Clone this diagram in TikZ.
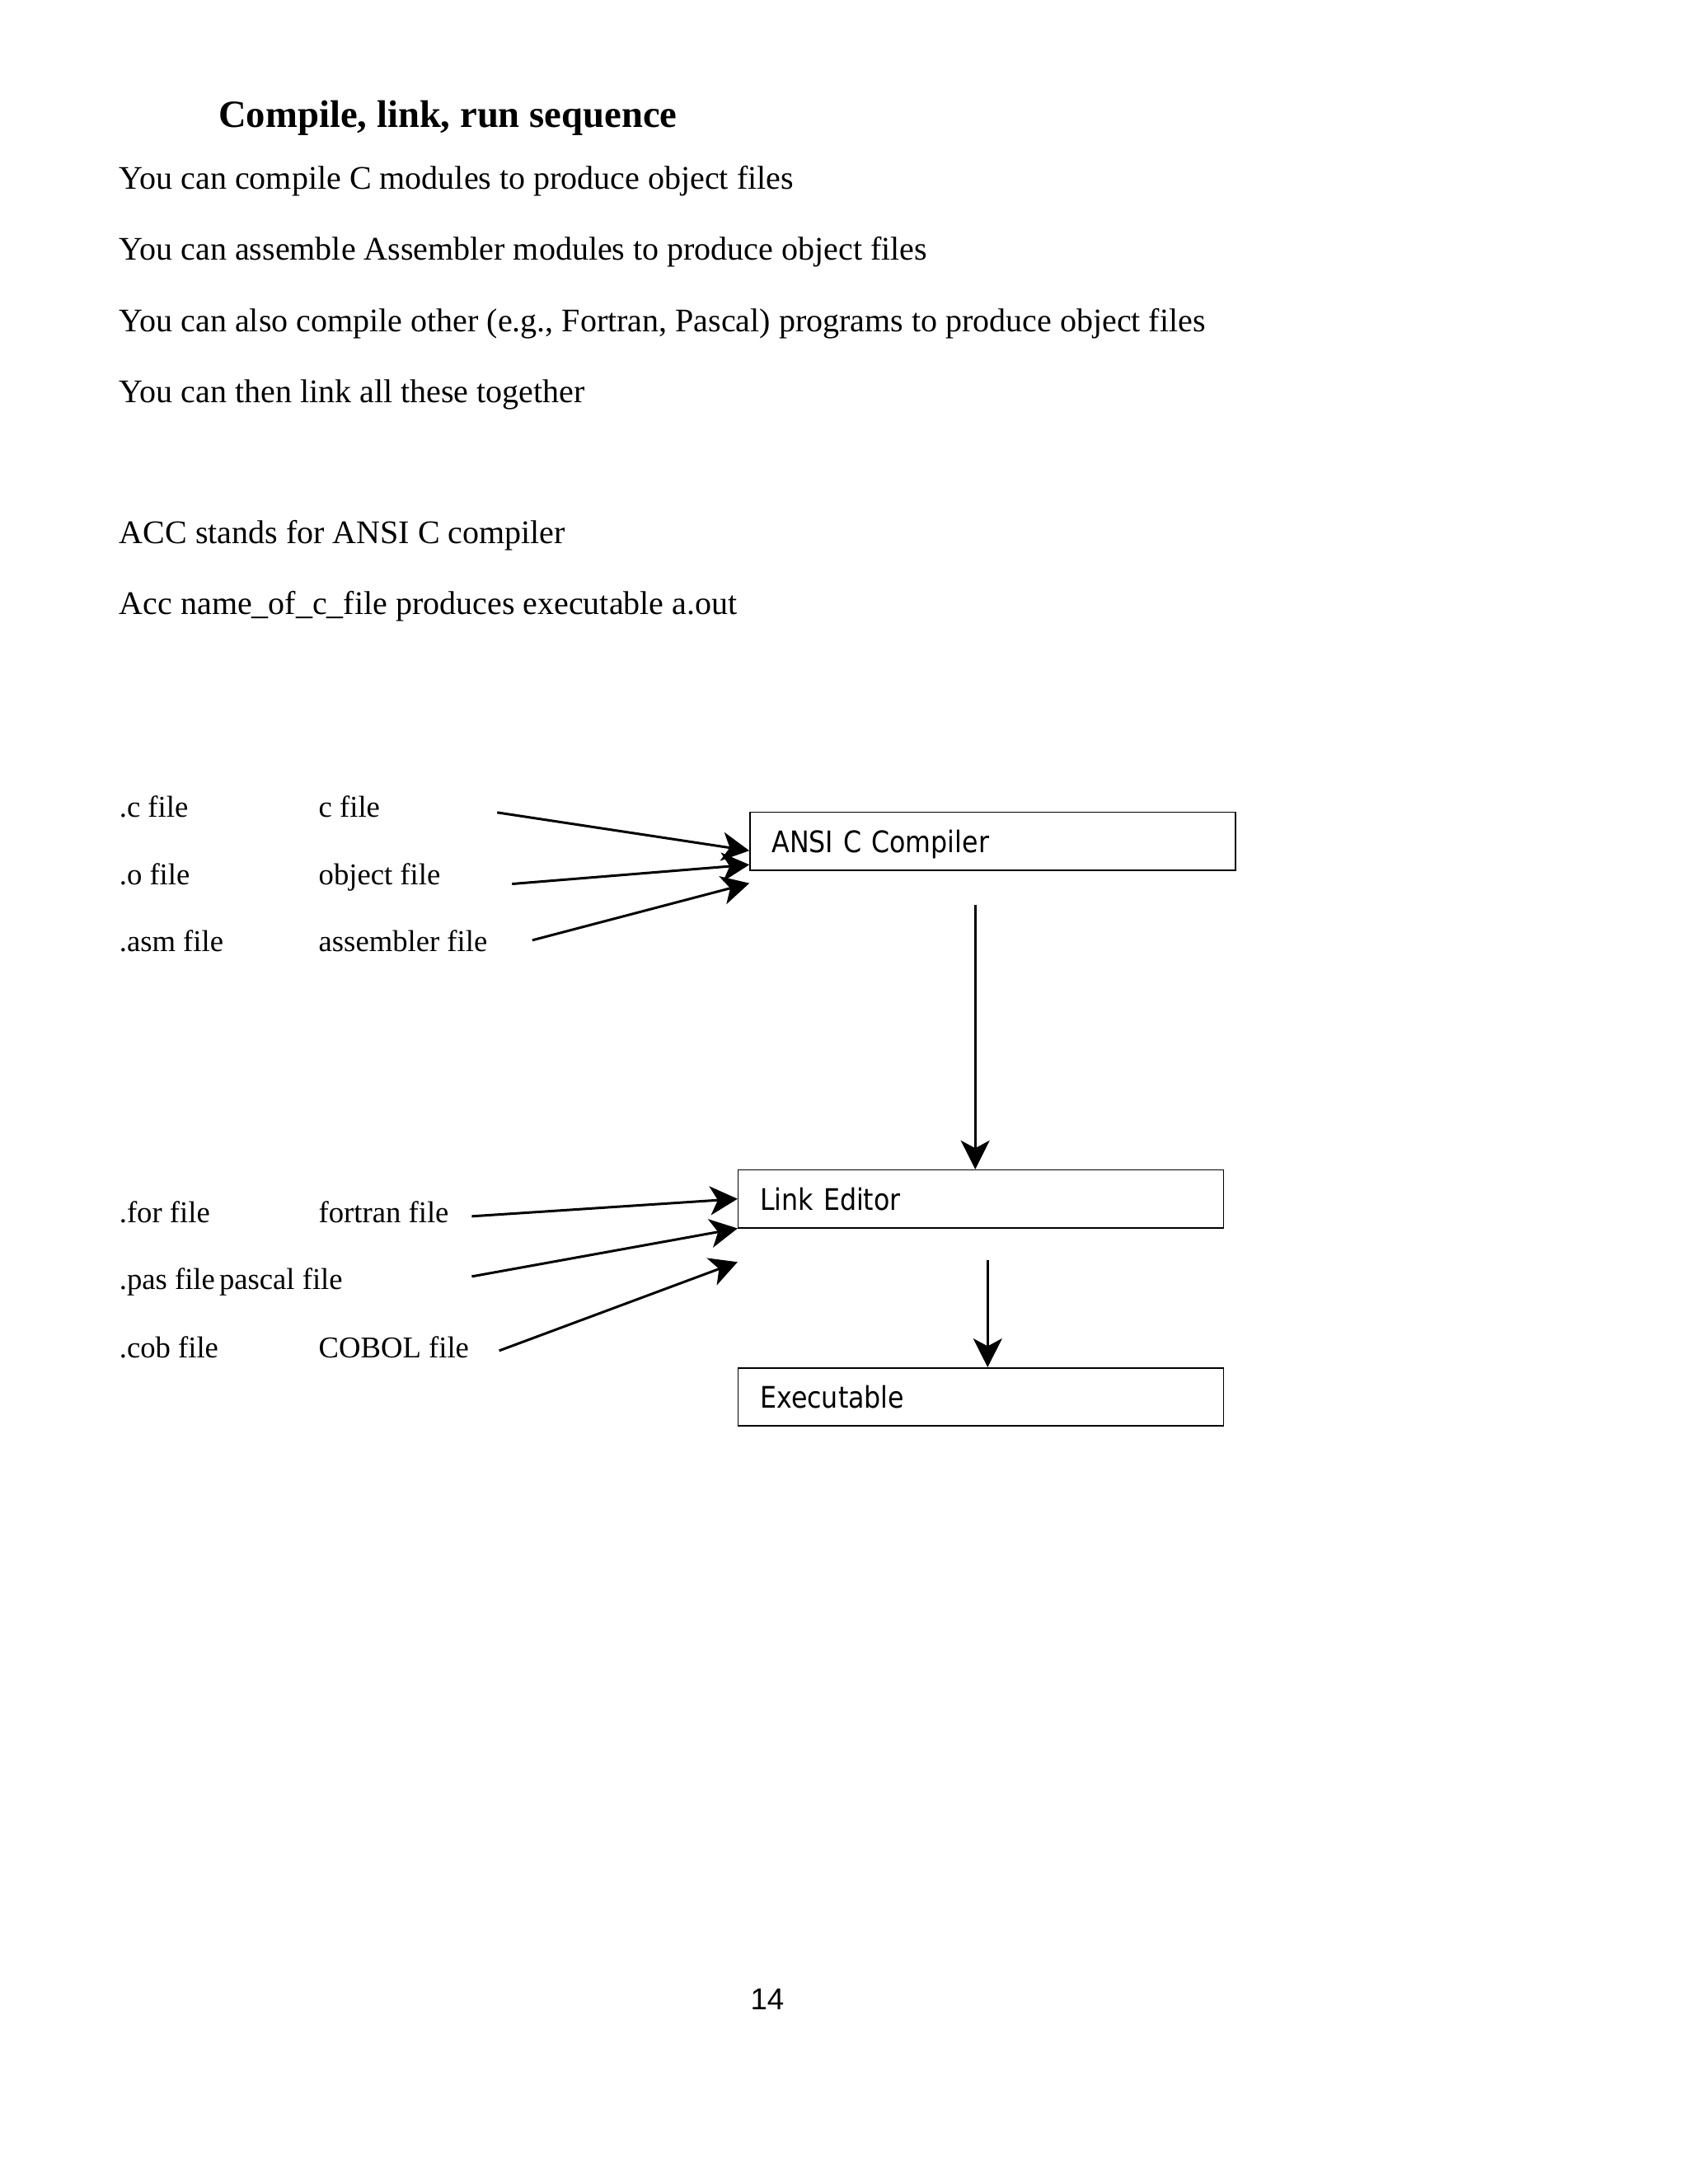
\documentclass[tikz,border=0pt]{standalone}
\usepackage{fontspec}
\setmainfont{Liberation Serif}
\newfontfamily\boxfont[FakeStretch=0.88]{DejaVu Sans}
\newfontfamily\pagefont{Liberation Sans}
\usetikzlibrary{arrows.meta,positioning,calc}

\begin{document}
\begin{tikzpicture}[
    heading/.style={anchor=base west, inner sep=0pt,
        font=\fontsize{14}{16}\selectfont\bfseries},
    para/.style={anchor=base west, inner sep=0pt,
        font=\fontsize{12}{14}\selectfont},
    fname/.style={anchor=base west, inner sep=0pt,
        font=\fontsize{11}{13}\selectfont},
    stage/.style={
        draw,
        line width=0.45pt,
        anchor=north west,
        minimum height=0.74cm,
        inner xsep=0.28cm,
        inner ysep=0pt,
        text width=5.65cm,
        text depth=0pt,
        align=left,
        font=\boxfont\fontsize{10.8}{13}\selectfont
    },
    feed/.style={-{Stealth[length=10pt,width=10.5pt,inset=2.8pt]}, line width=0.9pt},
    flow/.style={-{Stealth[length=10.5pt,width=10.5pt,inset=2.8pt]}, line width=0.8pt}
]
\useasboundingbox (0,0) rectangle (21.59,-27.94);

% ---------------- Text ----------------
\node[heading] (title) at (2.79,-1.63) {Compile, link, run sequence};
\node[para] (l1) at (1.52,-2.42) {You can compile C modules to produce object files};
\node[para] (l2) at (1.52,-3.33) {You can assemble Assembler modules to produce object files};
\node[para] (l3) at (1.52,-4.245) {You can also compile other (e.g., Fortran, Pascal) programs to produce object files};
\node[para] (l4) at (1.52,-5.15) {You can then link all these together};
\node[para] (l5) at (1.52,-6.95) {ACC stands for ANSI C compiler};
\node[para] (l6) at (1.52,-7.86) {Acc name\_of\_c\_file produces executable a.out};

% ---------------- File kinds ----------------
\node[fname] (dotc)   at (1.52,-10.455) {.c file};
\node[fname] (cfile)  at (4.07,-10.455) {c file};
\node[fname] (doto)   at (1.52,-11.316) {.o file};
\node[fname] (ofile)  at (4.07,-11.316) {object file};
\node[fname] (dotasm) at (1.52,-12.176) {.asm file};
\node[fname] (asmfile) at (4.07,-12.176) {assembler file};

\node[fname] (dotfor) at (1.52,-15.638) {.for file};
\node[fname] (forfile) at (4.07,-15.638) {fortran file};
\node[fname] (dotpas) at (1.52,-16.498) {.pas file};
\node[fname] (pasfile) at ([xshift=0.04cm]dotpas.base east) {pascal file};
\node[fname] (dotcob) at (1.52,-17.371) {.cob file};
\node[fname] (cobfile) at (4.07,-17.371) {COBOL file};

% ---------------- Stages ----------------
\node[stage] (ansi) at (9.586,-10.384) {ANSI C Compiler};
\node[stage] (link) at (9.435,-14.959) {Link Editor};
\node[stage] (exec) at (9.435,-17.492) {Executable};

% ---------------- Arrows ----------------
\coordinate (fromc)   at (6.36,-10.394);
\coordinate (fromo)   at (6.55,-11.308);
\coordinate (fromasm) at (6.81,-12.028);
\draw[feed] (fromc)   -- ([yshift=-0.121cm]ansi.west);
\draw[feed] (fromo)   -- ([yshift=-0.30cm]ansi.west);
\draw[feed] (fromasm) -- ([yshift=-0.537cm]ansi.west);

\coordinate (fromfor) at (6.035,-15.56);
\coordinate (frompas) at (6.035,-16.33);
\coordinate (fromcob) at (6.386,-17.279);
\draw[feed] (fromfor) -- (link.west);
\draw[feed] (frompas) -- (link.south west);
\draw[feed] (fromcob) -- ([yshift=-0.43cm]link.south west);

\coordinate (tolink) at (12.475,-11.576);
\draw[flow] (tolink) -- (tolink |- link.north);
\coordinate (toexec) at (12.634,-16.122);
\draw[flow] (toexec) -- (toexec |- exec.north);

% ---------------- Page number ----------------
\node[anchor=base, inner sep=0pt, font=\pagefont\fontsize{11}{13}\selectfont]
    (pageno) at (9.815,-25.712) {14};

\end{tikzpicture}
\end{document}
